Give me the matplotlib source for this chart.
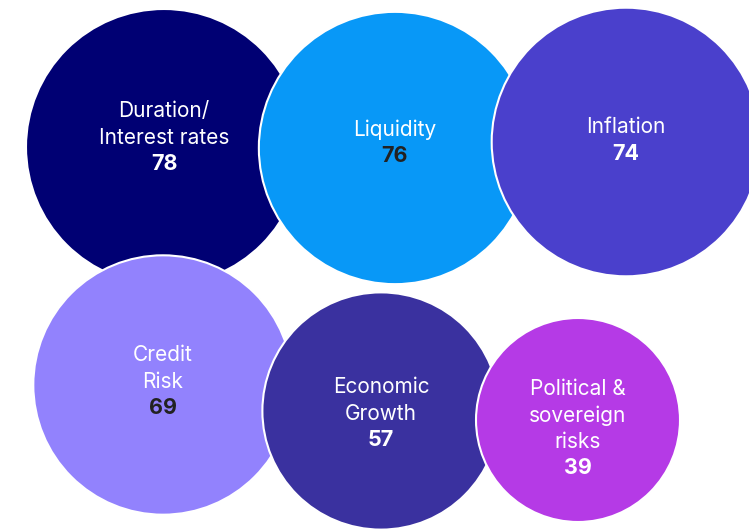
import matplotlib.pyplot as plt
from matplotlib.patches import Circle

# data
labels = ['Duration/\nInterest rates', 'Liquidity', 'Inflation',
          'Credit\nRisk', 'Economic\nGrowth', 'Political &\nsovereign\nrisks']
values = [78, 76, 74, 69, 57, 39]
colors = ['#000073', '#0898f7', '#4a40cc', '#9282fd', '#3a319f', '#b53ae6']
number_colors = ['white', '#222222', 'white', '#222222', 'white', 'white']

# layout (pixel coordinates)
centers = [(164, 147), (395, 148), (626, 142), (163, 385), (381, 411), (578, 420)]
first_line_y = [111, 130, 127, 355, 387, 389]
line_step = 26.5

plt.rcParams['font.family'] = ['Inter', 'DejaVu Sans']

fig = plt.figure(figsize=(7.49, 5.29), dpi=100)
ax = fig.add_axes([0, 0, 1, 1])
ax.set_xlim(0, 749)
ax.set_ylim(529, 0)
ax.set_aspect('equal')
ax.axis('off')

for i in range(len(values)):
    r = 66 + 0.923 * values[i]
    ax.add_patch(Circle(centers[i], r, facecolor=colors[i], edgecolor='white',
                        linewidth=1.5, zorder=i + 1))
    lines = labels[i].split('\n')
    x = centers[i][0]
    for j, line in enumerate(lines):
        ax.text(x, first_line_y[i] + j * line_step, line, color='white',
                fontsize=15, ha='center', va='center', zorder=20)
    ax.text(x, first_line_y[i] + len(lines) * line_step, str(values[i]),
            color=number_colors[i], fontsize=15.5, fontweight='bold',
            ha='center', va='center', zorder=20)

fig.savefig('out.png', dpi=100)
